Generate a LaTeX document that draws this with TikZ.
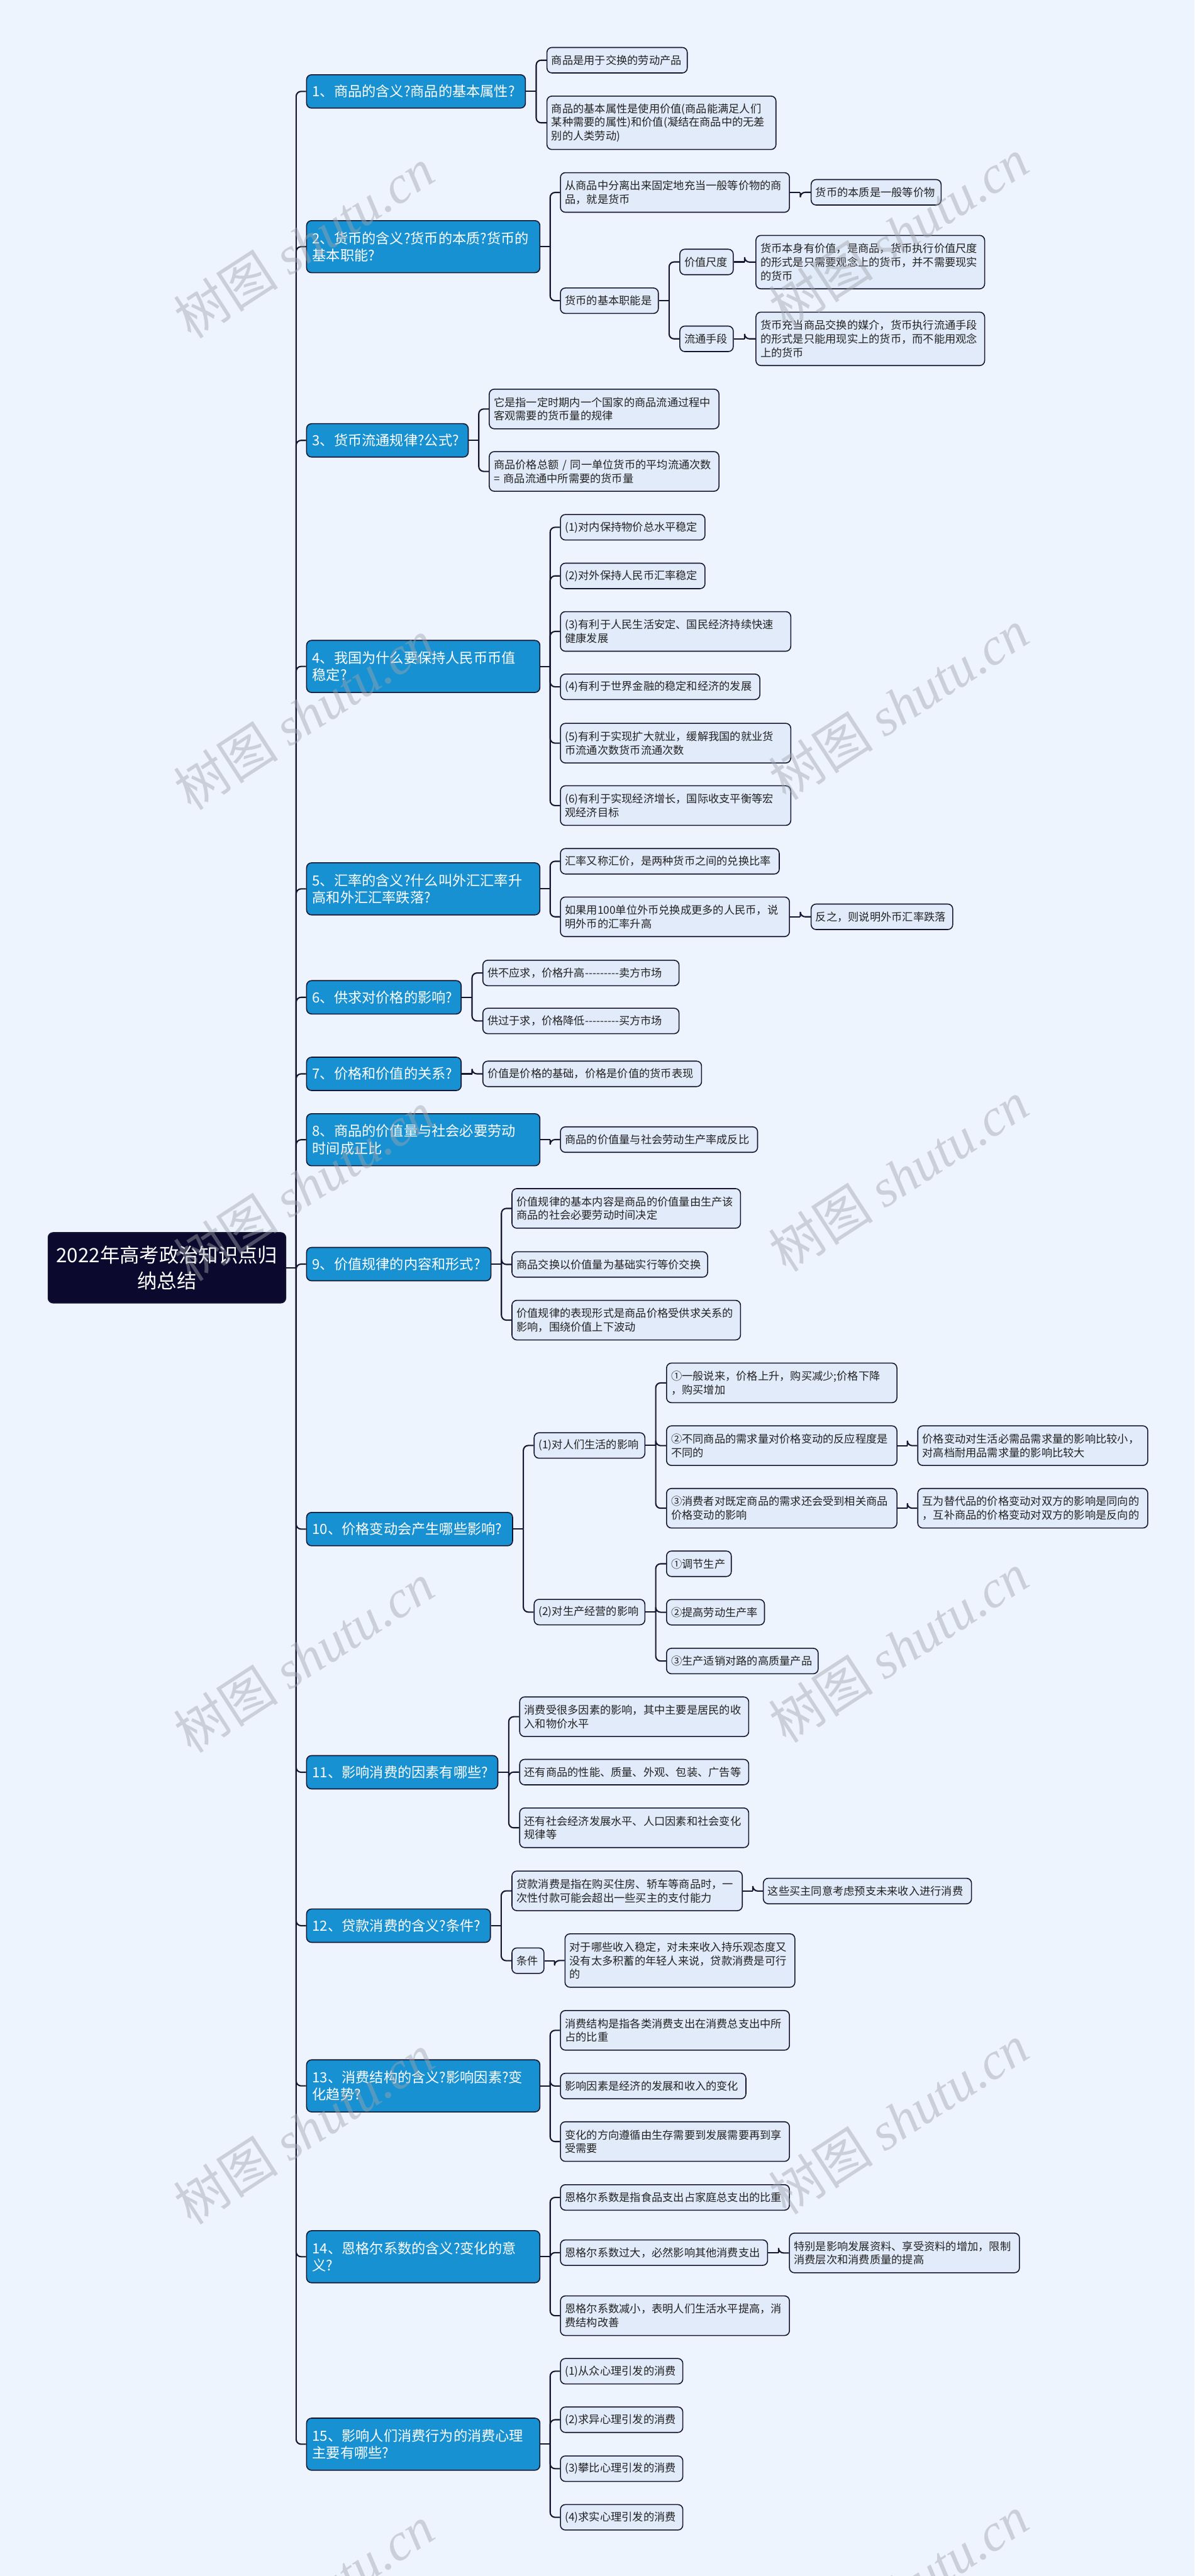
\documentclass[tikz,border=0pt]{standalone}
\usepackage{fontspec}
\setmainfont{Noto Sans CJK SC}
\newfontfamily\wmfont{Liberation Serif}
\usetikzlibrary{calc}
\definecolor{bg}{HTML}{EEF4FE}
\definecolor{brfill}{HTML}{1791D2}
\definecolor{lffill}{HTML}{E2EBFA}
\definecolor{edge}{HTML}{15152F}
\definecolor{rootfill}{HTML}{0B0A2E}
\definecolor{lftext}{HTML}{222222}
\definecolor{wmcol}{HTML}{A0A4AC}
\tikzset{
 leaf/.style={draw=edge, fill=lffill, line width=0.6pt, rounded corners=3pt, anchor=north west, align=left, inner xsep=2.8pt, inner ysep=1pt, font=\fontsize{6.6}{8.3}\selectfont, text=lftext},
 branch/.style={draw=edge, fill=brfill, line width=0.6pt, rounded corners=3pt, anchor=north west, align=left, inner xsep=3.5pt, inner ysep=1pt, font=\fontsize{8.5}{10.5}\selectfont, text=white},
 rootn/.style={draw=edge, fill=rootfill, line width=0.6pt, rounded corners=3pt, anchor=north west, align=center, inner xsep=2pt, inner ysep=1pt, font=\fontsize{12}{15.6}\selectfont, text=white},
 conn/.style={draw=edge, line width=0.8pt},
 wmk/.style={rotate=33, font=\fontsize{32}{32}\selectfont, text=wmcol, opacity=0.45, inner sep=0pt}
}
% name, x, y(top), text width, height, text
\newcommand\LF[6]{\node[leaf,text width=#4pt,minimum height=#5pt] (#1) at (#2,#3) {#6};}
\newcommand\BR[6]{\node[branch,text width=#4pt,minimum height=#5pt] (#1) at (#2,#3) {#6};}
\newcommand\lnk[2]{%
 \path ($(#1.east)!.5!(#2.west)$) coordinate (mid);
 \draw[conn] (#1.east) -- (mid |- #1.east);
 \draw[conn,rounded corners=3pt] (mid |- #1.east) |- (#2.west);}
\newcommand\dsh{-{}-{}-{}-{}-{}-{}-{}-{}-}
\begin{document}
\begin{tikzpicture}[x=1pt,y=-1pt]
\useasboundingbox (0,0) rectangle (727,1568);
\fill[bg] (0,0) rectangle (727,1568);

% root
\node[rootn,text width=140.6pt,minimum height=42.8pt] (root) at (29,750) {2022年高考政治知识点归\\纳总结};

% branches
\BR{b1}{186.3}{45.2}{126.2}{20.3}{1、商品的含义?商品的基本属性?}
\BR{b2}{186.3}{134}{135}{31.7}{2、货币的含义?货币的本质?货币的\\基本职能?}
\BR{b3}{186.3}{257.6}{91.4}{20.3}{3、货币流通规律?公式?}
\BR{b4}{186.3}{389.5}{135}{31.7}{4、我国为什么要保持人民币币值\\稳定?}
\BR{b5}{186.3}{524.9}{135}{31.7}{5、汇率的含义?什么叫外汇汇率升\\高和外汇汇率跌落?}
\BR{b6}{186.3}{596.6}{87.1}{20.3}{6、供求对价格的影响?}
\BR{b7}{186.3}{643.2}{87.1}{20.3}{7、价格和价值的关系?}
\BR{b8}{186.3}{677.6}{135}{31.7}{8、商品的价值量与社会必要劳动\\时间成正比}
\BR{b9}{186.3}{759}{105.2}{20.3}{9、价值规律的内容和形式?}
\BR{b10}{186.3}{920.3}{118.4}{20.3}{10、价格变动会产生哪些影响?}
\BR{b11}{186.3}{1068.3}{109.4}{20.3}{11、影响消费的因素有哪些?}
\BR{b12}{186.3}{1161.7}{104.9}{20.3}{12、贷款消费的含义?条件?}
\BR{b13}{186.3}{1253.5}{135}{31.7}{13、消费结构的含义?影响因素?变\\化趋势?}
\BR{b14}{186.3}{1357.5}{135}{31.7}{14、恩格尔系数的含义?变化的意\\义?}
\BR{b15}{186.3}{1471.6}{135}{31.7}{15、影响人们消费行为的消费心理\\主要有哪些?}

% 1
\LF{l1a}{332.6}{28.6}{79.8}{15.5}{商品是用于交换的劳动产品}
\LF{l1b}{332.6}{58.2}{133.8}{32.5}{商品的基本属性是使用价值(商品能满足人们\\某种需要的属性)和价值(凝结在商品中的无差\\别的人类劳动)}
% 2
\LF{l2a}{340.8}{104.8}{133.8}{24.1}{从商品中分离出来固定地充当一般等价物的商\\品，就是货币}
\LF{l2aa}{493.4}{109}{73.5}{15.5}{货币的本质是一般等价物}
\LF{l2b}{340.8}{175}{54}{15.5}{货币的基本职能是}
\LF{l2ba}{413.5}{151.4}{26.9}{15.5}{价值尺度}
\LF{l2baa}{459.8}{143}{133.6}{32.5}{货币本身有价值，是商品，货币执行价值尺度\\的形式是只需要观念上的货币，并不需要现实\\的货币}
\LF{l2bb}{413.5}{198.2}{26.9}{15.5}{流通手段}
\LF{l2bba}{459.8}{189.7}{133.6}{32.5}{货币充当商品交换的媒介，货币执行流通手段\\的形式是只能用现实上的货币，而不能用观念\\上的货币}
% 3
\LF{l3a}{297.5}{236.6}{134.2}{24.1}{它是指一定时期内一个国家的商品流通过程中\\客观需要的货币量的规律}
\LF{l3b}{297.5}{274.6}{134.2}{24.1}{商品价格总额 / 同一单位货币的平均流通次数\\= 商品流通中所需要的货币量}
% 4
\LF{l4a}{340.8}{312.9}{82.4}{15.5}{(1)对内保持物价总水平稳定}
\LF{l4b}{340.8}{342.5}{82.4}{15.5}{(2)对外保持人民币汇率稳定}
\LF{l4c}{340.8}{372}{134.6}{24.1}{(3)有利于人民生活安定、国民经济持续快速\\健康发展}
\LF{l4d}{340.8}{410}{115.8}{15.5}{(4)有利于世界金融的稳定和经济的发展}
\LF{l4e}{340.8}{440}{134.6}{24.1}{(5)有利于实现扩大就业，缓解我国的就业货\\币流通次数货币流通次数}
\LF{l4f}{340.8}{478}{134.6}{24.1}{(6)有利于实现经济增长，国际收支平衡等宏\\观经济目标}
% 5
\LF{l5a}{340.8}{516.2}{127.6}{15.5}{汇率又称汇价，是两种货币之间的兑换比率}
\LF{l5b}{340.8}{545.7}{133.8}{24.1}{如果用100单位外币兑换成更多的人民币，说\\明外币的汇率升高}
\LF{l5ba}{493.4}{550}{80.6}{15.5}{反之，则说明外币汇率跌落}
% 6,7,8
\LF{l6a}{293.6}{584.2}{113.8}{15.5}{供不应求，价格升高\dsh 卖方市场}
\LF{l6b}{293.6}{613.4}{113.8}{15.5}{供过于求，价格降低\dsh 买方市场}
\LF{l7a}{293.6}{645.6}{127.5}{15.5}{价值是价格的基础，价格是价值的货币表现}
\LF{l8a}{340.8}{685.6}{114.4}{15.5}{商品的价值量与社会劳动生产率成反比}
% 9
\LF{l9a}{311.3}{723.2}{133.5}{24.1}{价值规律的基本内容是商品的价值量由生产该\\商品的社会必要劳动时间决定}
\LF{l9b}{311.3}{761.6}{113.5}{15.5}{商品交换以价值量为基础实行等价交换}
\LF{l9c}{311.3}{791.2}{133.5}{24.1}{价值规律的表现形式是商品价格受供求关系的\\影响，围绕价值上下波动}
% 10
\LF{l10a}{324.8}{871.8}{61.8}{15.5}{(1)对人们生活的影响}
\LF{l10aa}{405.4}{829.4}{134.6}{24.1}{①一般说来，价格上升，购买减少;价格下降\\，购买增加}
\LF{l10ab}{405.4}{867.6}{134.6}{24.1}{②不同商品的需求量对价格变动的反应程度是\\不同的}
\LF{l10aba}{558.3}{867.6}{134.4}{24.1}{价格变动对生活必需品需求量的影响比较小，\\对高档耐用品需求量的影响比较大}
\LF{l10ac}{405.4}{905.7}{134.6}{24.1}{③消费者对既定商品的需求还会受到相关商品\\价格变动的影响}
\LF{l10aca}{558.3}{905.7}{134.4}{24.1}{互为替代品的价格变动对双方的影响是同向的\\，互补商品的价格变动对双方的影响是反向的}
\LF{l10b}{324.8}{973.2}{61.8}{15.5}{(2)对生产经营的影响}
\LF{l10ba}{405.4}{943.8}{33.8}{15.5}{①调节生产}
\LF{l10bb}{405.4}{973.3}{54}{15.5}{②提高劳动生产率}
\LF{l10bc}{405.4}{1003}{86.7}{15.5}{③生产适销对路的高质量产品}
% 11
\LF{l11a}{316}{1032.6}{133.8}{24.1}{消费受很多因素的影响，其中主要是居民的收\\入和物价水平}
\LF{l11b}{316}{1070.6}{133.8}{15.5}{还有商品的性能、质量、外观、包装、广告等}
\LF{l11c}{316}{1100.2}{133.8}{24.1}{还有社会经济发展水平、人口因素和社会变化\\规律等}
% 12
\LF{l12a}{311.3}{1138.6}{134.6}{24.1}{贷款消费是指在购买住房、轿车等商品时，一\\次性付款可能会超出一些买主的支付能力}
\LF{l12aa}{464.3}{1143}{121.1}{15.5}{这些买主同意考虑预支未来收入进行消费}
\LF{l12b}{311.3}{1185.4}{13.9}{15.5}{条件}
\LF{l12ba}{343.6}{1176.8}{134.3}{32.5}{对于哪些收入稳定，对未来收入持乐观态度又\\没有太多积蓄的年轻人来说，贷款消费是可行\\的}
% 13
\LF{l13a}{340.8}{1223.5}{133.8}{24.1}{消费结构是指各类消费支出在消费总支出中所\\占的比重}
\LF{l13b}{340.8}{1261.7}{107.3}{15.5}{影响因素是经济的发展和收入的变化}
\LF{l13c}{340.8}{1291.2}{133.8}{24.1}{变化的方向遵循由生存需要到发展需要再到享\\受需要}
% 14
\LF{l14a}{340.8}{1329.5}{133.8}{15.5}{恩格尔系数是指食品支出占家庭总支出的比重}
\LF{l14b}{340.8}{1363.1}{120.5}{15.5}{恩格尔系数过大，必然影响其他消费支出}
\LF{l14ba}{480.2}{1359}{134.4}{24.1}{特别是影响发展资料、享受资料的增加，限制\\消费层次和消费质量的提高}
\LF{l14c}{340.8}{1397.2}{133.8}{24.1}{恩格尔系数减小，表明人们生活水平提高，消\\费结构改善}
% 15
\LF{l15a}{340.8}{1435.3}{68.9}{15.5}{(1)从众心理引发的消费}
\LF{l15b}{340.8}{1464.8}{68.9}{15.5}{(2)求异心理引发的消费}
\LF{l15c}{340.8}{1494.6}{68.9}{15.5}{(3)攀比心理引发的消费}
\LF{l15d}{340.8}{1524.2}{68.9}{15.5}{(4)求实心理引发的消费}

% connectors
\foreach \b in {b1,b2,b3,b4,b5,b6,b7,b8,b9,b10,b11,b12,b13,b14,b15} {\lnk{root}{\b}}
\lnk{b1}{l1a}\lnk{b1}{l1b}
\lnk{b2}{l2a}\lnk{b2}{l2b}\lnk{l2a}{l2aa}
\lnk{l2b}{l2ba}\lnk{l2b}{l2bb}\lnk{l2ba}{l2baa}\lnk{l2bb}{l2bba}
\lnk{b3}{l3a}\lnk{b3}{l3b}
\foreach \c in {l4a,l4b,l4c,l4d,l4e,l4f} {\lnk{b4}{\c}}
\lnk{b5}{l5a}\lnk{b5}{l5b}\lnk{l5b}{l5ba}
\lnk{b6}{l6a}\lnk{b6}{l6b}
\lnk{b7}{l7a}
\lnk{b8}{l8a}
\lnk{b9}{l9a}\lnk{b9}{l9b}\lnk{b9}{l9c}
\lnk{b10}{l10a}\lnk{b10}{l10b}
\lnk{l10a}{l10aa}\lnk{l10a}{l10ab}\lnk{l10a}{l10ac}
\lnk{l10ab}{l10aba}\lnk{l10ac}{l10aca}
\lnk{l10b}{l10ba}\lnk{l10b}{l10bb}\lnk{l10b}{l10bc}
\lnk{b11}{l11a}\lnk{b11}{l11b}\lnk{b11}{l11c}
\lnk{b12}{l12a}\lnk{b12}{l12b}\lnk{l12a}{l12aa}\lnk{l12b}{l12ba}
\lnk{b13}{l13a}\lnk{b13}{l13b}\lnk{b13}{l13c}
\lnk{b14}{l14a}\lnk{b14}{l14b}\lnk{b14}{l14c}\lnk{l14b}{l14ba}
\foreach \c in {l15a,l15b,l15c,l15d} {\lnk{b15}{\c}}

% watermarks
\foreach \y in {148,435,722,1009,1296,1583} {\node[wmk] at (185,\y) {树图 {\wmfont\itshape shutu.cn}};}
\foreach \y in {142,429,716,1003,1290,1577} {\node[wmk] at (547,\y) {树图 {\wmfont\itshape shutu.cn}};}
\end{tikzpicture}
\end{document}
